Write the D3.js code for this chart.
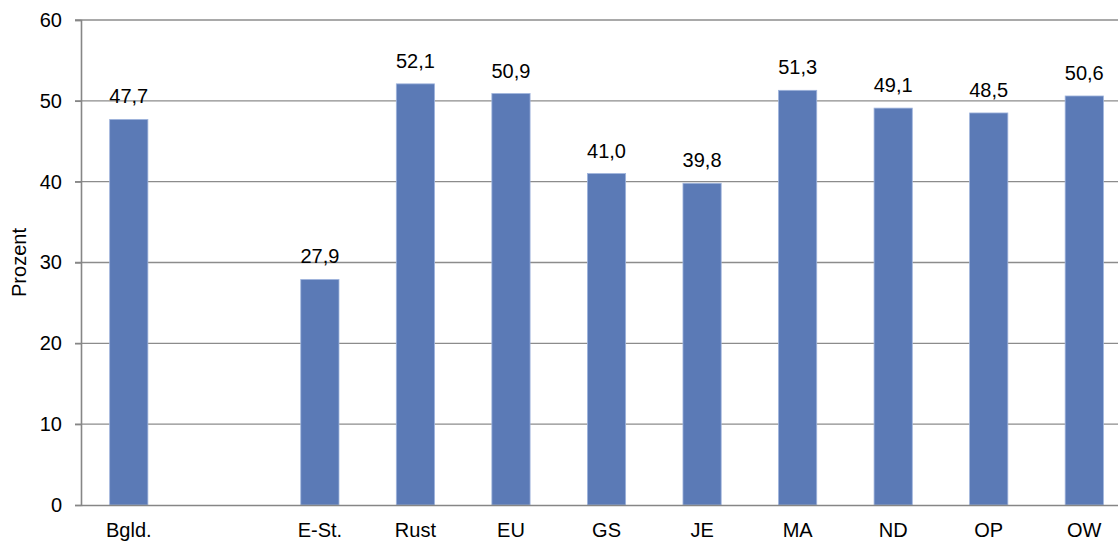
<!DOCTYPE html>
<html>
<head>
<meta charset="utf-8">
<script src="https://cdn.jsdelivr.net/npm/d3@7/dist/d3.min.js"></script>
<style>
  html, body { margin: 0; padding: 0; background: #fff; }
  svg { display: block; font-family: "Liberation Sans", Arial, sans-serif; }
</style>
</head>
<body>
<div class="chart"></div>
<script>
// categories (one empty slot after Bgld.)
const categories = ["Bgld.", "", "E-St.", "Rust", "EU", "GS", "JE", "MA", "ND", "OP", "OW"];
const values = [47.7, null, 27.9, 52.1, 50.9, 41.0, 39.8, 51.3, 49.1, 48.5, 50.6];
const yTicks = [0, 10, 20, 30, 40, 50, 60];
const yLabel = "Prozent";

const renderBarChart = (containerId) => {
    const svgWidth = 1118;
    const svgHeight = 545;
    const left = 81, top = 20, bottom = 505;
    const step = 95.55;
    const fontSize = 20;

    d3.select(`.${containerId}`).selectAll("*").remove();
    const svg = d3.select(`.${containerId}`)
      .append("svg")
      .attr("width", svgWidth)
      .attr("height", svgHeight);

    const x = d3.scaleBand()
      .domain(d3.range(categories.length))
      .range([left, left + step * categories.length])
      .paddingInner(0.6)
      .paddingOuter(0.3);

    const y = d3.scaleLinear()
      .domain([0, 60])
      .range([bottom, top]);

    // gridlines
    svg.append("g")
      .selectAll("line")
      .data(yTicks.filter(d => d > 0))
      .enter().append("line")
      .attr("x1", left - 6)
      .attr("x2", svgWidth)
      .attr("y1", d => y(d))
      .attr("y2", d => y(d))
      .attr("stroke", "#8c8c8c")
      .attr("stroke-width", 1.4);

    // bars
    const data = categories.map((c, i) => ({ i, c, v: values[i] })).filter(d => d.v != null);
    svg.selectAll(".bar")
      .data(data)
      .enter().append("rect")
      .attr("class", "bar")
      .attr("x", d => x(d.i))
      .attr("y", d => y(d.v))
      .attr("width", x.bandwidth())
      .attr("height", d => y(0) - y(d.v))
      .attr("fill", "#5b7ab6")
      .attr("stroke", "#9fb4dc")
      .attr("stroke-width", 0.8);

    // value labels
    svg.selectAll(".val")
      .data(data)
      .enter().append("text")
      .attr("class", "val")
      .attr("x", d => x(d.i) + x.bandwidth() / 2)
      .attr("y", d => y(d.v) - 16)
      .attr("text-anchor", "middle")
      .attr("font-size", fontSize)
      .attr("fill", "#000")
      .text(d => d3.format(".1f")(d.v).replace(".", ","));

    // y axis
    const yAxis = svg.append("g")
      .attr("transform", `translate(${left},0)`)
      .call(d3.axisLeft(y).tickValues(yTicks).tickSize(6).tickPadding(13));
    yAxis.select(".domain").attr("stroke", "#868686").attr("stroke-width", 1.6);
    yAxis.selectAll(".tick line").attr("stroke", "#868686").attr("stroke-width", 1.4);
    yAxis.selectAll(".tick text")
      .attr("font-size", fontSize)
      .attr("font-family", "Liberation Sans, Arial, sans-serif")
      .attr("fill", "#000");

    // x axis
    const xAxis = svg.append("g")
      .attr("transform", `translate(0,${bottom})`)
      .call(d3.axisBottom(x).tickSize(0).tickPadding(18).tickFormat(i => categories[i]));
    xAxis.select(".domain").attr("stroke", "#868686").attr("stroke-width", 1.6);
    xAxis.selectAll(".tick text")
      .attr("font-size", fontSize)
      .attr("font-family", "Liberation Sans, Arial, sans-serif")
      .attr("fill", "#000");

    // axis title
    svg.append("text")
      .attr("transform", `translate(26,${(top + bottom) / 2}) rotate(-90)`)
      .attr("text-anchor", "middle")
      .attr("font-size", fontSize)
      .attr("fill", "#000")
      .text(yLabel);
};

renderBarChart("chart");
</script>
</body>
</html>
